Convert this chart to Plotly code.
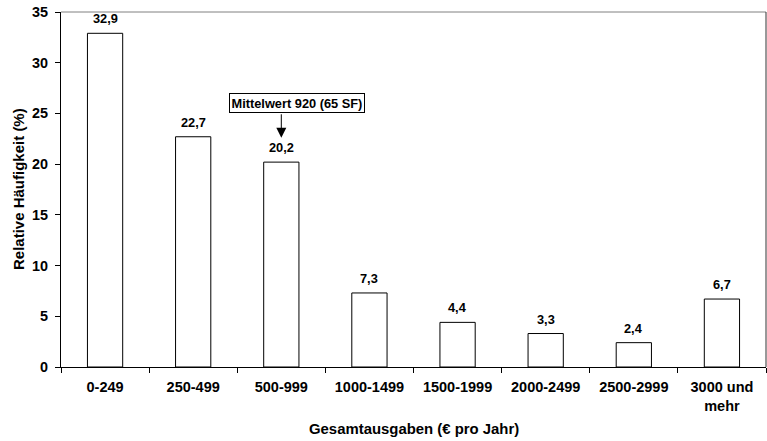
import plotly.graph_objects as go

categories = ["0-249", "250-499", "500-999", "1000-1499", "1500-1999",
              "2000-2499", "2500-2999", "3000 und<br>mehr"]
shares = [32.9, 22.7, 20.2, 7.3, 4.4, 3.3, 2.4, 6.7]
y_ticks = [0, 5, 10, 15, 20, 25, 30, 35]

FONT = "Liberation Sans, Arial, sans-serif"

fig = go.Figure()
fig.add_trace(go.Bar(
    x=categories, y=shares, width=0.4,
    marker=dict(color="white", line=dict(color="black", width=1)),
    hoverinfo="skip",
))

# value labels above each bar
for c, v in zip(categories, shares):
    fig.add_annotation(x=c, y=v, text=f"{v:.1f}".replace(".", ","),
                       showarrow=False, yanchor="bottom", yshift=5,
                       font=dict(family=FONT, size=12.8, color="black", weight="bold"))

# mean marker: boxed label with a vertical arrow onto the 500-999 bar
fig.add_annotation(x="500-999", y=26.0, xshift=16, text="Mittelwert 920 (65 SF)",
                   showarrow=False, bordercolor="black", borderwidth=1, borderpad=1.5,
                   bgcolor="white",
                   font=dict(family=FONT, size=12.8, color="black", weight="bold"))
fig.add_annotation(x="500-999", y=22.6, ax=0, ay=-25, text="",
                   showarrow=True, arrowhead=2, arrowsize=2, arrowwidth=1,
                   arrowcolor="black")

# axis titles
fig.add_annotation(xref="paper", yref="paper", x=0.5, y=0, yshift=-62,
                   text="Gesamtausgaben (€ pro Jahr)", showarrow=False,
                   xanchor="center", yanchor="middle",
                   font=dict(family=FONT, size=14.9, color="black", weight="bold"))
fig.add_annotation(xref="paper", yref="paper", x=0, y=0.5, xshift=-42.5,
                   text="Relative Häufigkeit (%)", showarrow=False, textangle=-90,
                   xanchor="center", yanchor="middle",
                   font=dict(family=FONT, size=15, color="black", weight="bold"))

# frame: top and right edges of the plot area
fig.add_shape(type="line", xref="paper", yref="paper", x0=0, x1=1, y0=1, y1=1,
              line=dict(color="#808080", width=1))
fig.add_shape(type="line", xref="paper", yref="paper", x0=1, x1=1, y0=0, y1=1,
              line=dict(color="#333333", width=1))

fig.update_layout(
    width=767, height=441,
    margin=dict(l=61, r=1, t=12, b=74),
    paper_bgcolor="white", plot_bgcolor="white",
    font=dict(family=FONT, color="black", weight="bold"),
    showlegend=False,
    bargap=0.6,
    xaxis=dict(
        tickfont=dict(family=FONT, size=14.5, weight="bold"),
        showline=True, linecolor="black", linewidth=1,
        ticks="outside", ticklen=5, tickcolor="black", tickson="boundaries",
        ticklabelstandoff=7,
        showgrid=False,
    ),
    yaxis=dict(
        tickfont=dict(family=FONT, size=14.4, weight="bold"),
        range=[0, 35], tickvals=y_ticks,
        showline=True, linecolor="black", linewidth=1,
        ticks="outside", ticklen=5, tickcolor="black",
        ticklabelstandoff=4,
        showgrid=False, zeroline=False,
    ),
)

fig.write_html("out.html")
